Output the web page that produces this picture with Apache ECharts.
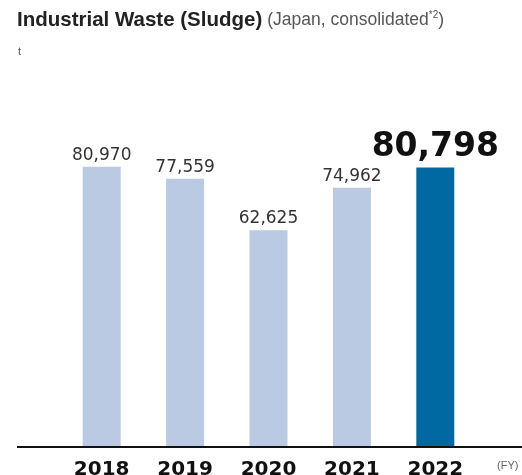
<!DOCTYPE html>
<html>
<head>
<meta charset="utf-8">
<script src="https://cdn.jsdelivr.net/npm/echarts@6/dist/echarts.min.js"></script>
<style>html,body{margin:0;padding:0;background:#fff;}#c{width:522px;height:475px;}</style>
</head>
<body>
<div id="c"></div>
<script>
const years = ['2018', '2019', '2020', '2021', '2022'];
const sludgeTonnes = [80970, 77559, 62625, 74962, 80798];
const highlightYear = '2022';

const chart = echarts.init(document.getElementById('c'));
const fmt = v => v.toLocaleString('en-US');
const data = sludgeTonnes.map((v, i) => {
  const hi = years[i] === highlightYear;
  return {
    value: v,
    itemStyle: { color: hi ? '#0069a1' : '#b9cae2' },
    label: hi ? { fontSize: 33, fontWeight: 'bold', color: '#111', distance: 4, fontFamily: 'DejaVu Sans' } : {}
  };
});
chart.setOption({
  animation: false,
  title: {
    left: 17, top: 10, padding: 0,
    text: '{a|Industrial Waste (Sludge)} {b|(Japan, consolidated}{c|*2}{b|)}',
    textStyle: {
      fontWeight: 'normal',
      rich: {
        a: { fontFamily: 'Liberation Sans', fontWeight: 'bold', fontSize: 20.5, color: '#222' },
        b: { fontFamily: 'Liberation Sans', fontWeight: 'normal', fontSize: 17.5, color: '#555' },
        c: { fontFamily: 'Liberation Sans', fontWeight: 'normal', fontSize: 10, color: '#555', verticalAlign: 'top', padding: [0, 0, 8, 0] }
      }
    }
  },
  graphic: [
    { type: 'text', left: 18, top: 46, style: { text: 't', fontFamily: 'Liberation Sans', fontSize: 11, fill: '#555' } },
    { type: 'text', left: 497, top: 460, style: { text: '(FY)', fontFamily: 'Liberation Sans', fontSize: 11, fill: '#666' } },
    { type: 'line', shape: { x1: 17, y1: 447, x2: 522, y2: 447 }, style: { stroke: '#111', lineWidth: 2 }, z: 10 }
  ],
  grid: { left: 60, right: 45, top: 101, bottom: 28, outerBoundsMode: 'none', containLabel: false },
  xAxis: {
    type: 'category', data: years,
    axisLine: { show: false }, axisTick: { show: false },
    axisLabel: { fontFamily: 'DejaVu Sans', fontWeight: 'bold', fontSize: 20, color: '#111', margin: 13 }
  },
  yAxis: { type: 'value', min: 0, max: 100000, show: false, splitLine: { show: false } },
  series: [{
    type: 'bar', data: data, barWidth: 38,
    label: { show: true, position: 'top', distance: 3, fontFamily: 'DejaVu Sans', fontSize: 17, color: '#333', formatter: p => fmt(p.value) }
  }]
});
</script>
</body>
</html>
